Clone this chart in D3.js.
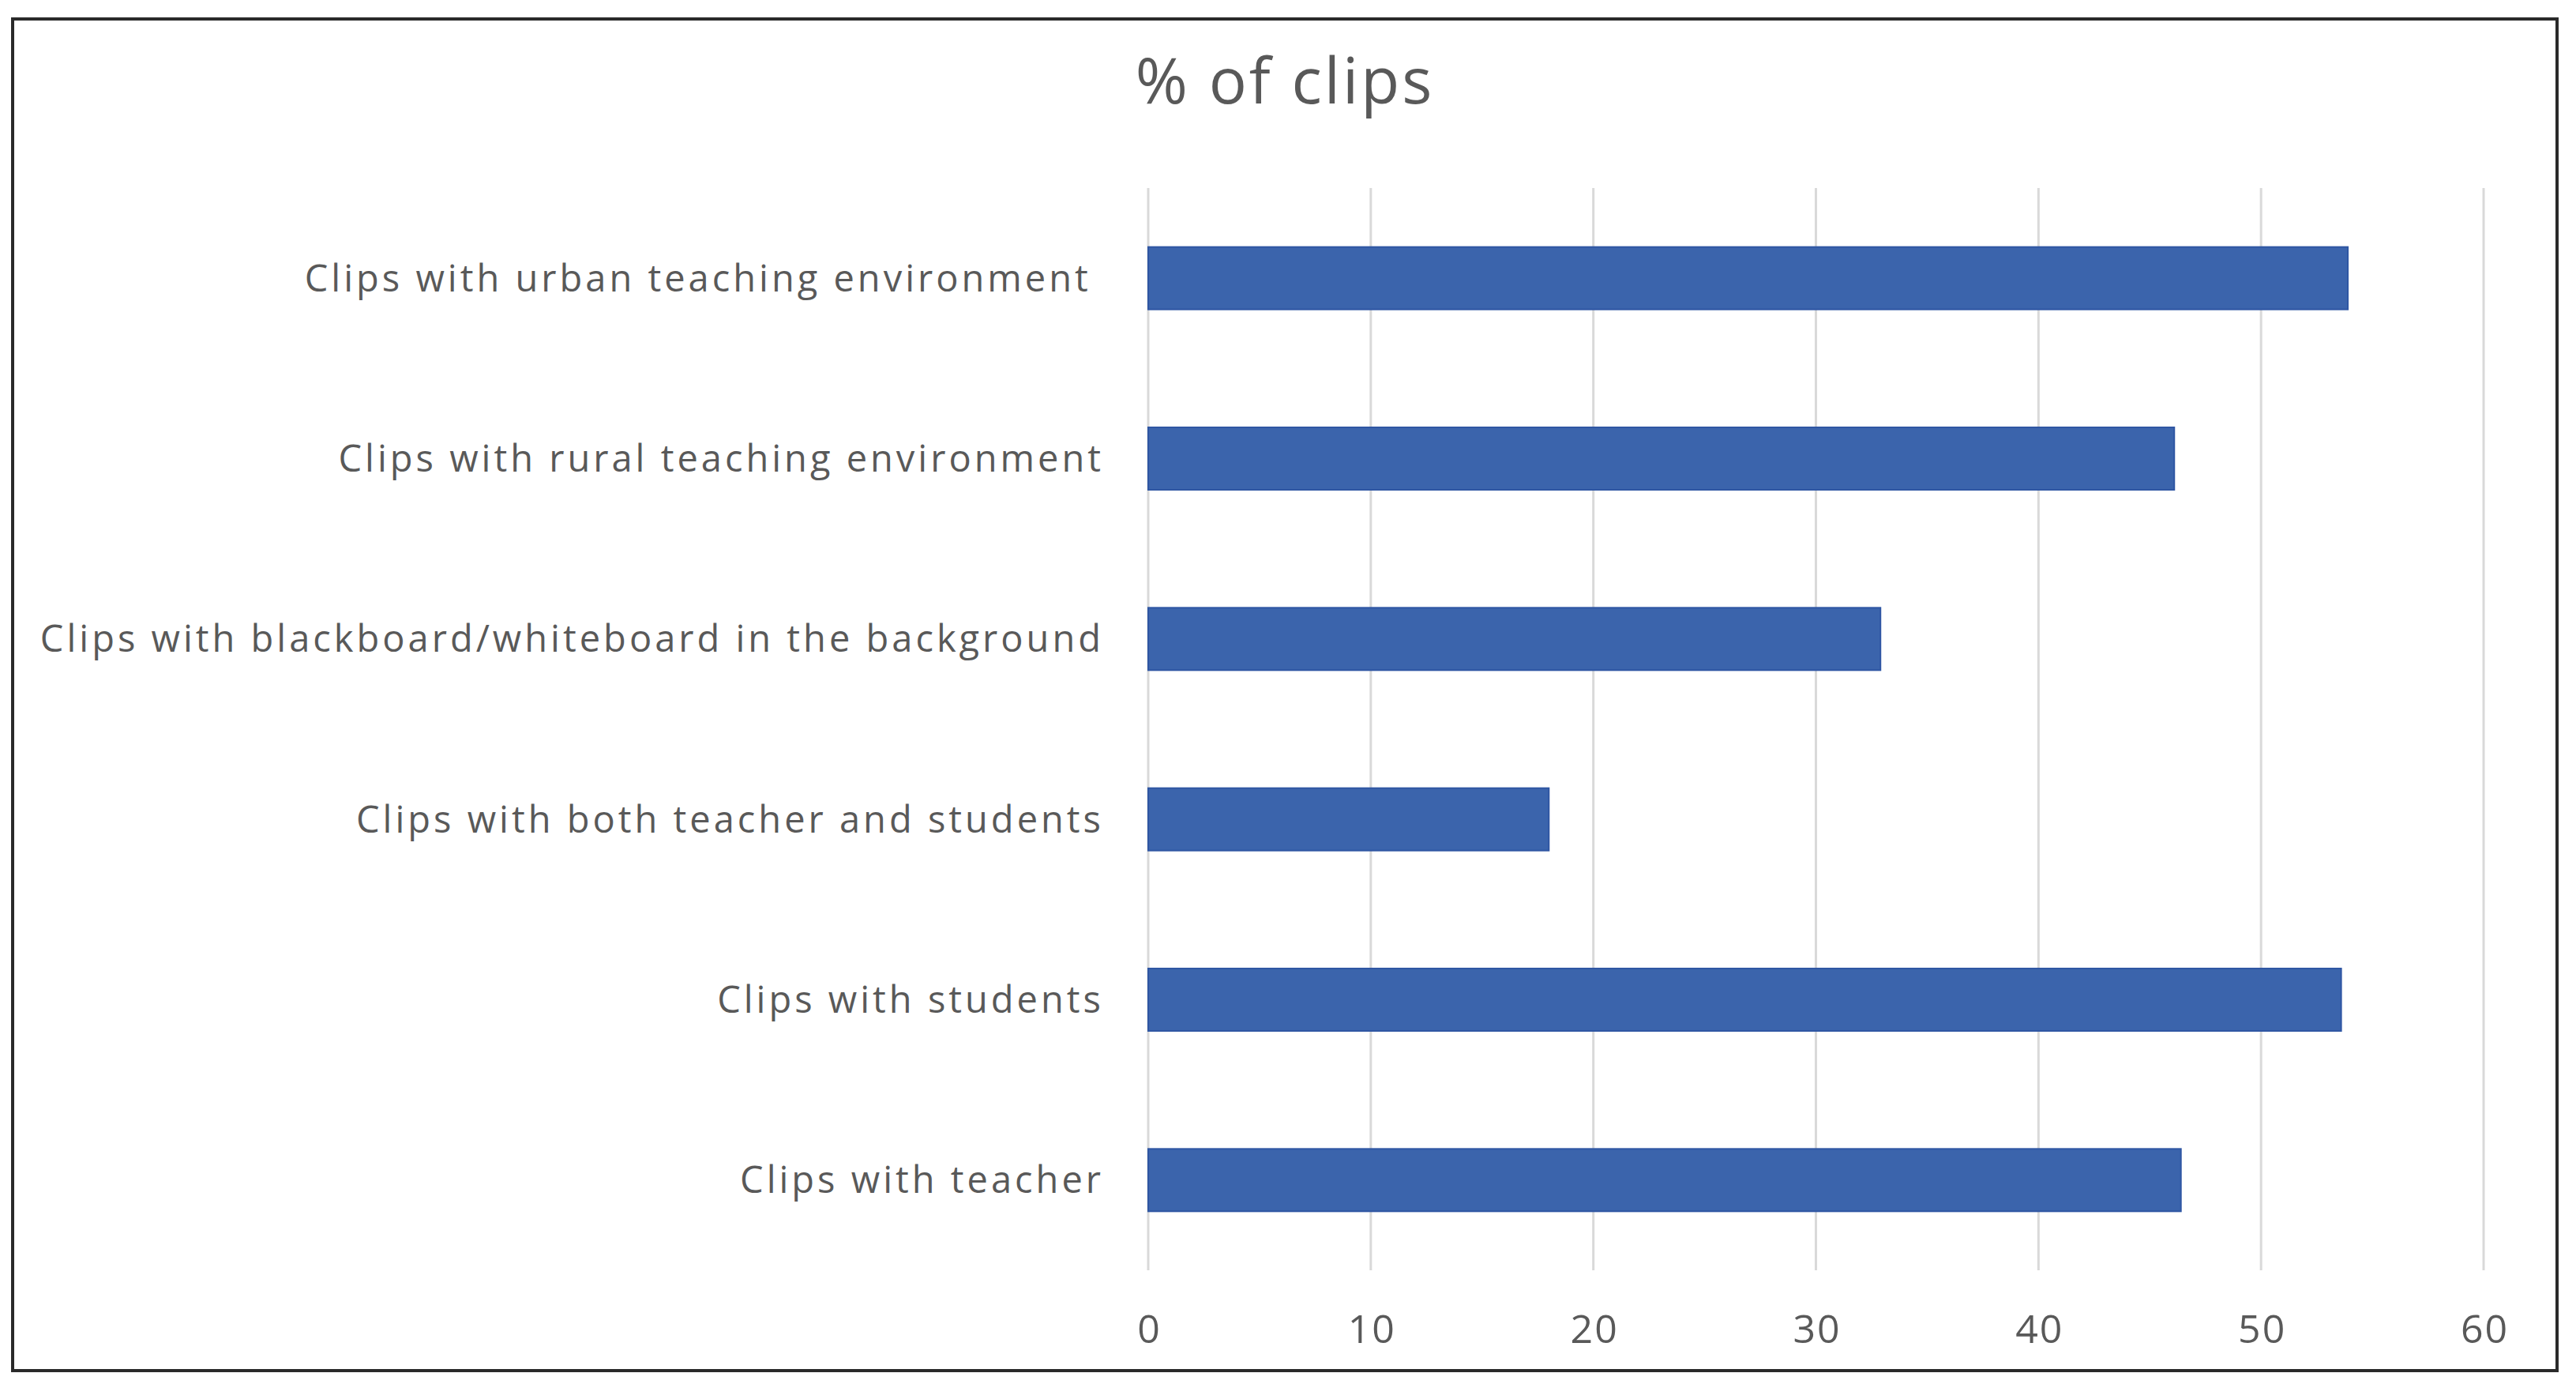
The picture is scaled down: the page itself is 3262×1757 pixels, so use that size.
<!DOCTYPE html>
<html>
<head>
<meta charset="utf-8">
<script src="https://cdn.jsdelivr.net/npm/d3@7"></script>
<style>
  html, body { margin: 0; padding: 0; background: #fff; }
  svg { display: block; }
  text { font-family: "Open Sans", "Noto Sans", sans-serif; fill: #595959; }
</style>
</head>
<body>
<div id="chart"></div>
<script>
// chart data, top to bottom as drawn
const categories = [
  "Clips with urban teaching environment ",
  "Clips with rural teaching environment",
  "Clips with blackboard/whiteboard in the background",
  "Clips with both teacher and students",
  "Clips with students",
  "Clips with teacher"
];
const percentValues = [53.9, 46.1, 32.9, 18.0, 53.6, 46.4];
const xTicks = [0, 10, 20, 30, 40, 50, 60];
const chartTitle = "% of clips";

const width = 3262, height = 1757;
const plot = { left: 1454, right: 3145, top: 238, bottom: 1608 };

const svg = d3.select("#chart").append("svg")
    .attr("width", width)
    .attr("height", height);

svg.append("rect")
    .attr("width", width).attr("height", height)
    .attr("fill", "#fff");

// outer frame
svg.append("rect")
    .attr("x", 16).attr("y", 24)
    .attr("width", 3222).attr("height", 1711)
    .attr("fill", "none")
    .attr("stroke", "#2a2a2a")
    .attr("stroke-width", 4);

const x = d3.scaleLinear()
    .domain([0, 60])
    .range([plot.left, plot.right]);

const y = d3.scaleBand()
    .domain(categories)
    .range([plot.top, plot.bottom])
    .paddingInner(0.654)
    .paddingOuter(0.327);

// vertical gridlines
svg.append("g")
    .attr("stroke", "#d9d9d9")
    .attr("stroke-width", 3)
  .selectAll("line")
  .data(xTicks)
  .join("line")
    .attr("x1", d => x(d)).attr("x2", d => x(d))
    .attr("y1", plot.top).attr("y2", plot.bottom);

// bars
svg.append("g")
  .selectAll("rect")
  .data(categories)
  .join("rect")
    .attr("x", x(0))
    .attr("y", d => y(d))
    .attr("width", (d, i) => x(percentValues[i]) - x(0))
    .attr("height", y.bandwidth())
    .attr("fill", "#3b64ac")
    .attr("stroke", "#2f56a3")
    .attr("stroke-width", 2);

// x axis labels
const xAxis = svg.append("g")
    .attr("transform", `translate(0,${plot.bottom})`)
    .call(d3.axisBottom(x).tickValues(xTicks).tickSize(0).tickPadding(0));
xAxis.select(".domain").remove();
xAxis.selectAll("text")
    .attr("y", 92)
    .attr("dy", 0)
    .attr("dx", 1)
    .attr("fill", "#595959")
    .style("font-size", "50px")
    .style("letter-spacing", "2px")
    .style("font-family", "'Open Sans', sans-serif");

// category labels
const yAxis = svg.append("g")
    .attr("transform", `translate(${plot.left},0)`)
    .call(d3.axisLeft(y).tickSize(0).tickPadding(56));
yAxis.select(".domain").remove();
yAxis.selectAll("text")
    .attr("dy", "0.35em")
    .attr("fill", "#595959")
    .style("white-space", "pre")
    .style("font-size", "47px")
    .style("letter-spacing", "4px")
    .style("font-family", "'Open Sans', sans-serif");

// title
svg.append("text")
    .attr("x", 1627)
    .attr("y", 131)
    .attr("text-anchor", "middle")
    .style("font-size", "80px")
    .style("letter-spacing", "3px")
    .attr("fill", "#595959")
    .text(chartTitle);
</script>
</body>
</html>
